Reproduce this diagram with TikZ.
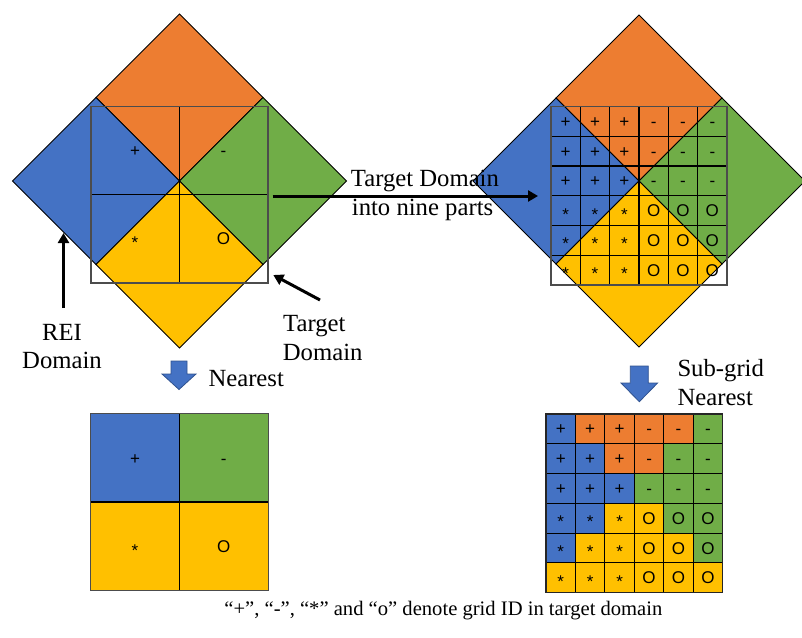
\documentclass[tikz,border=0pt]{standalone}
\usepackage{fontspec}
\setmainfont{Liberation Serif}
\newfontfamily\labfont{Liberation Sans}
\usetikzlibrary{arrows.meta}
\definecolor{cOr}{HTML}{ED7D31}
\definecolor{cBl}{HTML}{4472C4}
\definecolor{cGr}{HTML}{70AD47}
\definecolor{cYe}{HTML}{FFC000}
\definecolor{cArrEdge}{HTML}{2F528F}
\tikzset{
  diam/.style={draw=black, line width=0.8pt},
  gridln/.style={draw=black, line width=1.1pt},
  outerrect/.style={draw=black!70, line width=1.1pt},
  txt/.style={font=\fontsize{24.7}{28.3}\selectfont, inner sep=0pt, anchor=base west},
  txtc/.style={txt, anchor=base},
  cell/.style={font=\labfont\fontsize{17}{17}\selectfont, inner sep=0pt, anchor=base},
  blk/.style={fill=cBl, draw=cArrEdge, line width=0.8pt},
  ptr/.style={line width=3pt, -{Triangle[length=10pt,width=11pt]}}
}
\begin{document}
\begin{tikzpicture}[x=1pt,y=-1pt]
\useasboundingbox (0,0) rectangle (802,637);

% ---------- left diamonds ----------
\foreach \cx/\cy/\cc in {179.5/97.5/cOr, 96/181/cBl, 263/181/cGr, 179.5/264.5/cYe}
  \filldraw[diam, fill=\cc] (\cx,\cy) ++(-83.5,0) -- ++(83.5,-83.5) -- ++(83.5,83.5) -- ++(-83.5,83.5) -- cycle;
\draw[gridln] (179.3,106.5) -- (179.3,283);
\draw[gridln] (91,194.5) -- (268,194.5);
\draw[outerrect] (91,106.5) rectangle (268,283);
\node[cell] (l1) at (135,156.5) {+};
\node[cell] (l2) at (223.5,156.5) {-};
\node[cell, yshift=-3.5pt] (l3) at (135,244.5) {*};
\node[cell] (l4) at (223.5,244.5) {O};

% ---------- right diamonds ----------
\foreach \cx/\cy/\cc in {639/98/cOr, 556/181/cBl, 722/181/cGr, 639/264/cYe}
  \filldraw[diam, fill=\cc] (\cx,\cy) ++(-83,0) -- ++(83,-83) -- ++(83,83) -- ++(-83,83) -- cycle;
\foreach \i in {1,...,5} {
  \draw[gridln] ({551+\i*29.333},106.5) -- ({551+\i*29.333},285);
  \draw[gridln] (551,{106.5+\i*29.75}) -- (727,{106.5+\i*29.75});
}
\draw[outerrect] (551,106.5) rectangle (727,285);
\foreach \j in {0,1,2} {
  \foreach \i in {0,1,2}
    \node[cell] (rp\i\j) at ({551+(\i+0.5)*29.333},{106.5+(\j+0.5)*29.75+6}) {+};
  \foreach \i in {3,4,5}
    \node[cell] (rm\i\j) at ({551+(\i+0.5)*29.333},{106.5+(\j+0.5)*29.75+6}) {-};
}
\foreach \j in {3,4,5} {
  \foreach \i in {0,1,2}
    \node[cell, yshift=-3.5pt] (rs\i\j) at ({551+(\i+0.5)*29.333},{106.5+(\j+0.5)*29.75+6}) {*};
  \foreach \i in {3,4,5}
    \node[cell] (ro\i\j) at ({551+(\i+0.5)*29.333},{106.5+(\j+0.5)*29.75+6}) {O};
}

% ---------- bottom-left square ----------
\fill[cBl] (90.7,413.3) rectangle (179.3,502);
\fill[cGr] (179.3,413.3) rectangle (268.3,502);
\fill[cYe] (90.7,502) rectangle (268.3,590.7);
\draw[gridln] (179.3,413.3) -- (179.3,590.7);
\draw[gridln] (90.7,502) -- (268.3,502);
\draw[outerrect] (90.7,413.3) rectangle (268.3,590.7);
\node[cell] (b1) at (135,464) {+};
\node[cell] (b2) at (223.8,464) {-};
\node[cell, yshift=-3.5pt] (b3) at (135,552.5) {*};
\node[cell] (b4) at (223.8,552.5) {O};

% ---------- bottom-right grid ----------
\foreach \rowcols [count=\j from 0] in {
  {cBl,cOr,cOr,cOr,cOr,cGr},
  {cBl,cBl,cOr,cOr,cGr,cGr},
  {cBl,cBl,cBl,cGr,cGr,cGr},
  {cBl,cBl,cYe,cYe,cGr,cGr},
  {cBl,cYe,cYe,cYe,cYe,cGr},
  {cYe,cYe,cYe,cYe,cYe,cYe}} {
  \foreach \cc [count=\i from 0] in \rowcols
    \fill[\cc] ({546+\i*29.45},{414+\j*29.78}) rectangle ({546+(\i+1)*29.45},{414+(\j+1)*29.78});
}
\foreach \i in {1,...,5} {
  \draw[gridln] ({546+\i*29.45},414) -- ({546+\i*29.45},592.7);
  \draw[gridln] (546,{414+\i*29.78}) -- (722.7,{414+\i*29.78});
}
\draw[gridln, draw=black!85] (546,414) rectangle (722.7,592.7);
\foreach \j in {0,1,2} {
  \foreach \i in {0,1,2}
    \node[cell] (gp\i\j) at ({546+(\i+0.5)*29.45},{414+(\j+0.5)*29.78+6}) {+};
  \foreach \i in {3,4,5}
    \node[cell] (gm\i\j) at ({546+(\i+0.5)*29.45},{414+(\j+0.5)*29.78+6}) {-};
}
\foreach \j in {3,4,5} {
  \foreach \i in {0,1,2}
    \node[cell, yshift=-3.5pt] (gs\i\j) at ({546+(\i+0.5)*29.45},{414+(\j+0.5)*29.78+6}) {*};
  \foreach \i in {3,4,5}
    \node[cell] (go\i\j) at ({546+(\i+0.5)*29.45},{414+(\j+0.5)*29.78+6}) {O};
}

% ---------- block arrows ----------
\filldraw[blk] (171,361) -- (187,361) -- (187,374) -- (196,374) -- (179,389.5) -- (162,374) -- (171,374) -- cycle;
\filldraw[blk] (630.3,366) -- (648.3,366) -- (648.3,383) -- (657.6,383) -- (639.3,401.7) -- (621,383) -- (630.3,383) -- cycle;

% ---------- pointer arrows ----------
\coordinate (hs) at (272.7,196);
\coordinate (he) at (538,196);
\draw[ptr] (hs) -- (he);
\coordinate (reiS) at (63.5,308);
\coordinate (reiE) at (63.5,233);
\draw[ptr] (reiS) -- (reiE);
\coordinate (tdS) at (320,300);
\coordinate (tdE) at (273.3,275);
\draw[ptr] (tdS) -- (tdE);

% ---------- texts ----------
\node[txt] (t1a) at (350.7,186.7) {Target Domain};
\node[txt] (t1b) at (351.7,215) {into nine parts};
\node[txtc] (t2a) at (62,340) {REI};
\node[txtc] (t2b) at (62,368) {Domain};
\node[txt] (t3a) at (283,331.7) {Target};
\node[txt] (t3b) at (282.7,360) {Domain};
\node[txt] (t4) at (208.3,386) {Nearest};
\node[txt] (t5a) at (677.3,376.7) {Sub-grid};
\node[txt] (t5b) at (677.3,405) {Nearest};
\node[txtc, font=\fontsize{20.6}{24}\selectfont] (cap) at (443.4,615) {“+”, “-”, “*” and “o” denote grid ID in target domain};
\end{tikzpicture}
\end{document}
